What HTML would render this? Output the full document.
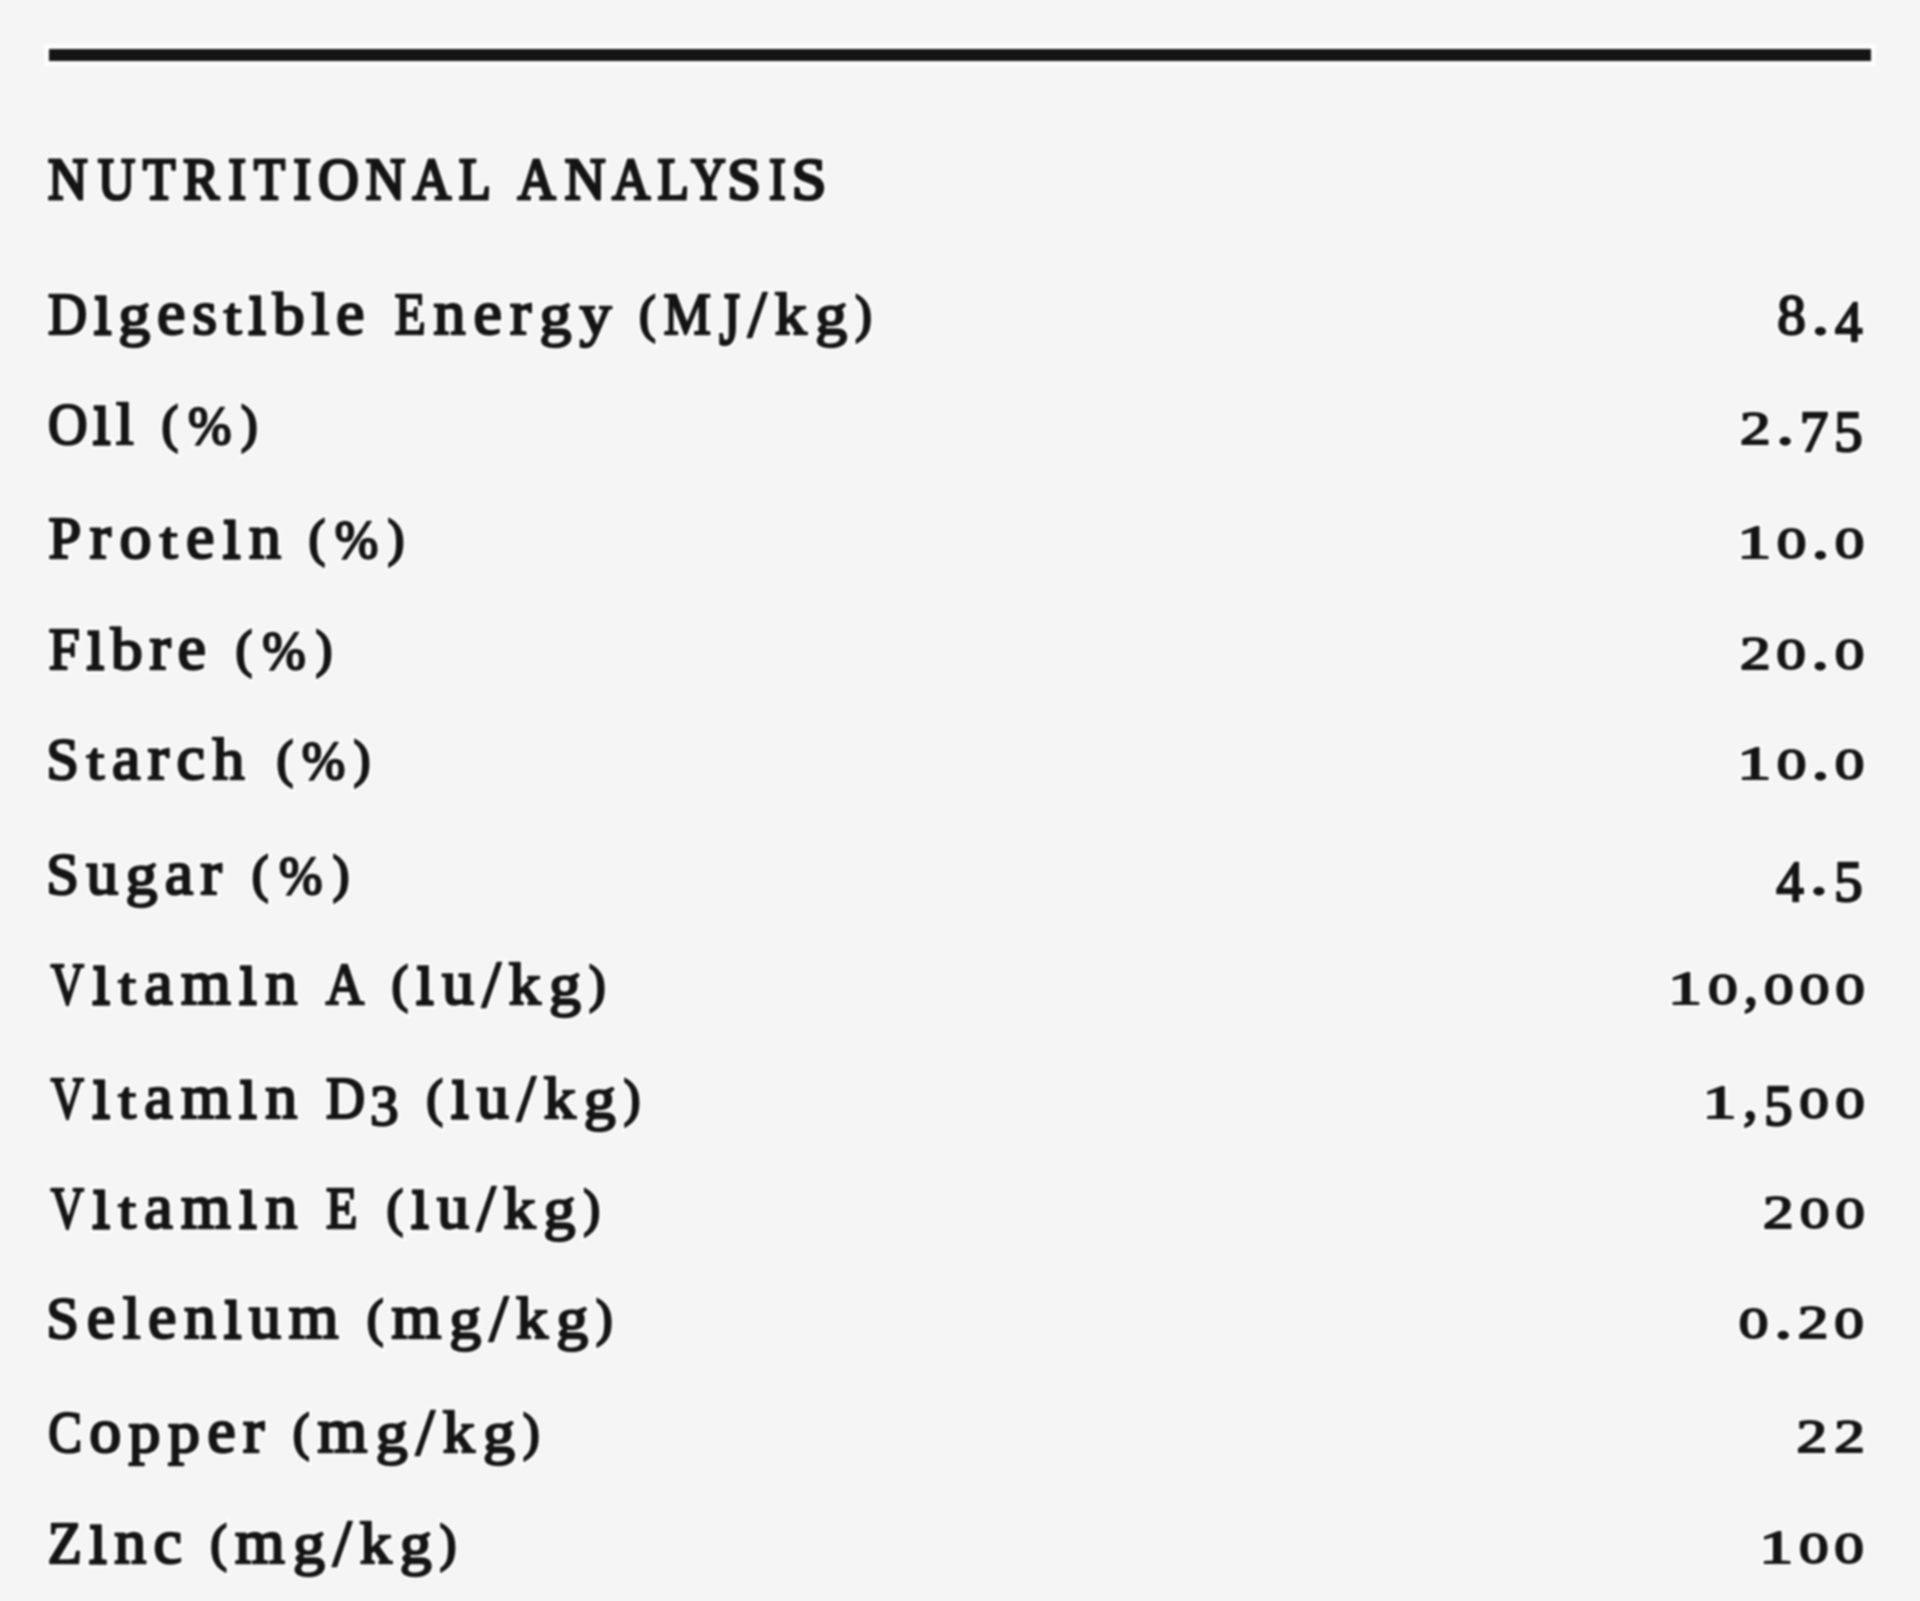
<!DOCTYPE html>
<html><head><meta charset="utf-8"><title>Nutritional Analysis</title>
<style>
html,body{margin:0;padding:0;}
body{width:1920px;height:1601px;background:#f5f5f5;overflow:hidden;position:relative;font-family:"Liberation Serif",serif;}
.halo{position:absolute;left:44px;top:44px;width:1832px;height:22px;background:#fff;opacity:.85;filter:blur(1.2px);}
.rule{position:absolute;left:49px;top:49px;width:1822px;height:12px;background:#141414;filter:blur(1.2px);}
svg{position:absolute;left:0;top:0;}
svg text{font-family:"Liberation Serif",serif;font-weight:normal;}
.tm{fill:#141414;stroke:#141414;--sw:2.6px;stroke-width:var(--sw);filter:blur(0.9px);}
.th{fill:#fff;stroke:#fff;--sw:7px;stroke-width:var(--sw);filter:blur(1.2px);}
</style></head>
<body>
<div class="halo"></div>
<div class="rule"></div>
<svg width="1920" height="1601" viewBox="0 0 1920 1601">
<defs><g id="tx">
<text transform="translate(48.12 199.00) scale(0.932 1.000)" font-size="58.8" style="stroke-width:calc(var(--sw) + 0.6px)">N</text>
<text transform="translate(97.97 199.00) scale(0.873 1.000)" font-size="58.8" style="stroke-width:calc(var(--sw) + 0.6px)">U</text>
<text transform="translate(143.09 199.00) scale(0.902 1.000)" font-size="58.8" style="stroke-width:calc(var(--sw) + 0.6px)">T</text>
<text transform="translate(183.15 199.00) scale(0.915 1.000)" font-size="58.8" style="stroke-width:calc(var(--sw) + 0.6px)">R</text>
<text transform="translate(228.42 199.00) scale(0.887 1.000)" font-size="58.8" style="stroke-width:calc(var(--sw) + 0.6px)">I</text>
<text transform="translate(253.88 199.00) scale(0.862 1.000)" font-size="58.8" style="stroke-width:calc(var(--sw) + 0.6px)">T</text>
<text transform="translate(293.51 199.00) scale(0.890 1.000)" font-size="58.8" style="stroke-width:calc(var(--sw) + 0.6px)">I</text>
<text transform="translate(318.20 199.00) scale(0.954 1.000)" font-size="58.8" style="stroke-width:calc(var(--sw) + 0.6px)">O</text>
<text transform="translate(365.63 199.00) scale(0.928 1.000)" font-size="58.8" style="stroke-width:calc(var(--sw) + 0.6px)">N</text>
<text transform="translate(412.68 199.00) scale(0.902 1.000)" font-size="58.8" style="stroke-width:calc(var(--sw) + 0.6px)">A</text>
<text transform="translate(459.10 199.00) scale(0.886 1.000)" font-size="58.8" style="stroke-width:calc(var(--sw) + 0.6px)">L</text>
<text transform="translate(517.69 199.00) scale(0.890 1.000)" font-size="58.8" style="stroke-width:calc(var(--sw) + 0.6px)">A</text>
<text transform="translate(564.68 199.00) scale(0.959 1.000)" font-size="58.8" style="stroke-width:calc(var(--sw) + 0.6px)">N</text>
<text transform="translate(612.19 199.00) scale(0.892 1.000)" font-size="58.8" style="stroke-width:calc(var(--sw) + 0.6px)">A</text>
<text transform="translate(657.63 199.00) scale(0.867 1.000)" font-size="58.8" style="stroke-width:calc(var(--sw) + 0.6px)">L</text>
<text transform="translate(691.27 199.00) scale(0.809 1.000)" font-size="58.8" style="stroke-width:calc(var(--sw) + 0.6px)">Y</text>
<text transform="translate(727.26 199.00) scale(1.027 1.000)" font-size="58.8" style="stroke-width:calc(var(--sw) + 0.6px)">S</text>
<text transform="translate(769.13 199.00) scale(0.832 1.000)" font-size="58.8" style="stroke-width:calc(var(--sw) + 0.6px)">I</text>
<text transform="translate(791.64 199.00) scale(1.059 1.000)" font-size="58.8" style="stroke-width:calc(var(--sw) + 0.6px)">S</text>
<text transform="translate(48.04 334.00) scale(0.920 1.000)" font-size="58.8">D</text>
<text transform="translate(93.83 334.00) scale(1.000 1.264)" font-size="64">ı</text>
<text transform="translate(118.33 334.00) scale(1.000 0.940)" font-size="64">g</text>
<text x="157.04" y="334.00" font-size="64">e</text>
<text x="192.17" y="334.00" font-size="64">s</text>
<text transform="translate(223.79 334.00) scale(1.000 0.815)" font-size="64">t</text>
<text transform="translate(248.29 334.00) scale(1.000 1.264)" font-size="64">ı</text>
<text transform="translate(272.79 334.00) scale(1.000 0.920)" font-size="64">b</text>
<text transform="translate(311.51 334.00) scale(1.000 0.920)" font-size="64">l</text>
<text x="336.01" y="334.00" font-size="64">e</text>
<text transform="translate(394.64 334.00) scale(0.860 1.000)" font-size="58.8">E</text>
<text x="433.57" y="334.00" font-size="64">n</text>
<text x="473.61" y="334.00" font-size="64">e</text>
<text x="510.06" y="334.00" font-size="64">r</text>
<text transform="translate(539.41 334.00) scale(1.000 0.940)" font-size="64">g</text>
<text transform="translate(579.45 334.00) scale(1.000 0.940)" font-size="64">y</text>
<text transform="translate(639.37 331.00) scale(0.950 1.000)" font-size="51.1" style="stroke-width:calc(var(--sw) + 0.4px)">(</text>
<text transform="translate(663.84 334.00) scale(0.900 1.000)" font-size="58.8">M</text>
<text transform="translate(719.20 343.50) scale(0.900 1.250)" font-size="58.8">J</text>
<text x="748.10" y="336.05" font-size="66.4">/</text>
<text transform="translate(774.85 334.00) scale(1.000 0.920)" font-size="64">k</text>
<text transform="translate(815.16 334.00) scale(1.000 0.940)" font-size="64">g</text>
<text transform="translate(855.47 331.00) scale(0.950 1.000)" font-size="51.1" style="stroke-width:calc(var(--sw) + 0.4px)">)</text>
<text x="1777.32" y="334.00" font-size="57.2" style="stroke-width:calc(var(--sw) - 0.2px)">8</text>
<text transform="translate(1811.47 334.00) scale(1.250 0.950)" font-size="57.2" style="stroke-width:calc(var(--sw) - 0.2px)">.</text>
<text transform="translate(1834.90 340.50) scale(0.960 1.000)" font-size="57.2" style="stroke-width:calc(var(--sw) - 0.2px)">4</text>
<text transform="translate(48.06 444.00) scale(0.930 1.000)" font-size="58.8">O</text>
<text transform="translate(92.86 444.00) scale(1.000 1.264)" font-size="64">ı</text>
<text transform="translate(115.95 444.00) scale(1.000 0.920)" font-size="64">l</text>
<text transform="translate(161.87 441.00) scale(0.950 1.000)" font-size="51.1" style="stroke-width:calc(var(--sw) + 0.4px)">(</text>
<text transform="translate(187.96 444.00) scale(0.870 0.910)" font-size="60">%</text>
<text transform="translate(241.37 441.00) scale(0.950 1.000)" font-size="51.1" style="stroke-width:calc(var(--sw) + 0.4px)">)</text>
<text transform="translate(1740.01 444.00) scale(1.070 0.795)" font-size="57.2" style="stroke-width:calc(var(--sw) - 0.2px)">2</text>
<text transform="translate(1776.23 444.00) scale(1.250 0.950)" font-size="57.2" style="stroke-width:calc(var(--sw) - 0.2px)">.</text>
<text x="1799.72" y="450.50" font-size="57.2" style="stroke-width:calc(var(--sw) - 0.2px)">7</text>
<text x="1833.93" y="450.50" font-size="57.2" style="stroke-width:calc(var(--sw) - 0.2px)">5</text>
<text x="48.61" y="558.00" font-size="58.8">P</text>
<text x="89.70" y="558.00" font-size="64">r</text>
<text x="119.40" y="558.00" font-size="64">o</text>
<text transform="translate(159.79 558.00) scale(1.000 0.815)" font-size="64">t</text>
<text x="185.95" y="558.00" font-size="64">e</text>
<text transform="translate(222.75 558.00) scale(1.000 1.264)" font-size="64">ı</text>
<text x="248.92" y="558.00" font-size="64">n</text>
<text transform="translate(308.87 555.00) scale(0.950 1.000)" font-size="51.1" style="stroke-width:calc(var(--sw) + 0.4px)">(</text>
<text transform="translate(334.76 558.00) scale(0.870 0.910)" font-size="60">%</text>
<text transform="translate(387.97 555.00) scale(0.950 1.000)" font-size="51.1" style="stroke-width:calc(var(--sw) + 0.4px)">)</text>
<text transform="translate(1737.32 558.00) scale(1.190 0.797)" font-size="57.2" style="stroke-width:calc(var(--sw) - 0.2px)">1</text>
<text transform="translate(1776.66 558.00) scale(1.035 0.780)" font-size="57.2" style="stroke-width:calc(var(--sw) - 0.2px)">0</text>
<text transform="translate(1811.57 558.00) scale(1.250 0.950)" font-size="57.2" style="stroke-width:calc(var(--sw) - 0.2px)">.</text>
<text transform="translate(1834.75 558.00) scale(1.035 0.780)" font-size="57.2" style="stroke-width:calc(var(--sw) - 0.2px)">0</text>
<text transform="translate(48.69 669.00) scale(0.950 1.000)" font-size="58.8">F</text>
<text transform="translate(86.42 669.00) scale(1.000 1.264)" font-size="64">ı</text>
<text transform="translate(110.87 669.00) scale(1.000 0.920)" font-size="64">b</text>
<text x="149.53" y="669.00" font-size="64">r</text>
<text x="177.51" y="669.00" font-size="64">e</text>
<text transform="translate(235.87 666.00) scale(0.950 1.000)" font-size="51.1" style="stroke-width:calc(var(--sw) + 0.4px)">(</text>
<text transform="translate(262.26 669.00) scale(0.870 0.910)" font-size="60">%</text>
<text transform="translate(315.97 666.00) scale(0.950 1.000)" font-size="51.1" style="stroke-width:calc(var(--sw) + 0.4px)">)</text>
<text transform="translate(1740.01 669.00) scale(1.070 0.795)" font-size="57.2" style="stroke-width:calc(var(--sw) - 0.2px)">2</text>
<text transform="translate(1776.17 669.00) scale(1.035 0.780)" font-size="57.2" style="stroke-width:calc(var(--sw) - 0.2px)">0</text>
<text transform="translate(1811.32 669.00) scale(1.250 0.950)" font-size="57.2" style="stroke-width:calc(var(--sw) - 0.2px)">.</text>
<text transform="translate(1834.75 669.00) scale(1.035 0.780)" font-size="57.2" style="stroke-width:calc(var(--sw) - 0.2px)">0</text>
<text x="46.37" y="779.00" font-size="58.8">S</text>
<text transform="translate(86.58 779.00) scale(1.000 0.815)" font-size="64">t</text>
<text x="111.88" y="779.00" font-size="64">a</text>
<text x="147.80" y="779.00" font-size="64">r</text>
<text x="176.62" y="779.00" font-size="64">c</text>
<text transform="translate(212.54 779.00) scale(1.000 0.920)" font-size="64">h</text>
<text transform="translate(276.87 776.00) scale(0.950 1.000)" font-size="51.1" style="stroke-width:calc(var(--sw) + 0.4px)">(</text>
<text transform="translate(301.76 779.00) scale(0.870 0.910)" font-size="60">%</text>
<text transform="translate(353.97 776.00) scale(0.950 1.000)" font-size="51.1" style="stroke-width:calc(var(--sw) + 0.4px)">)</text>
<text transform="translate(1737.32 779.00) scale(1.190 0.797)" font-size="57.2" style="stroke-width:calc(var(--sw) - 0.2px)">1</text>
<text transform="translate(1776.66 779.00) scale(1.035 0.780)" font-size="57.2" style="stroke-width:calc(var(--sw) - 0.2px)">0</text>
<text transform="translate(1811.57 779.00) scale(1.250 0.950)" font-size="57.2" style="stroke-width:calc(var(--sw) - 0.2px)">.</text>
<text transform="translate(1834.75 779.00) scale(1.035 0.780)" font-size="57.2" style="stroke-width:calc(var(--sw) - 0.2px)">0</text>
<text x="46.37" y="894.00" font-size="58.8">S</text>
<text x="86.31" y="894.00" font-size="64">u</text>
<text transform="translate(125.56 894.00) scale(1.000 0.940)" font-size="64">g</text>
<text x="164.80" y="894.00" font-size="64">a</text>
<text x="200.45" y="894.00" font-size="64">r</text>
<text transform="translate(252.12 891.00) scale(0.950 1.000)" font-size="51.1" style="stroke-width:calc(var(--sw) + 0.4px)">(</text>
<text transform="translate(278.88 894.00) scale(0.870 0.910)" font-size="60">%</text>
<text transform="translate(332.97 891.00) scale(0.950 1.000)" font-size="51.1" style="stroke-width:calc(var(--sw) + 0.4px)">)</text>
<text transform="translate(1776.33 900.50) scale(0.960 1.000)" font-size="57.2" style="stroke-width:calc(var(--sw) - 0.2px)">4</text>
<text transform="translate(1809.92 894.00) scale(1.250 0.950)" font-size="57.2" style="stroke-width:calc(var(--sw) - 0.2px)">.</text>
<text x="1833.93" y="900.50" font-size="57.2" style="stroke-width:calc(var(--sw) - 0.2px)">5</text>
<text transform="translate(50.78 1004.00) scale(0.780 1.000)" font-size="58.8">V</text>
<text transform="translate(92.19 1004.00) scale(1.000 1.264)" font-size="64">ı</text>
<text transform="translate(118.26 1004.00) scale(1.000 0.815)" font-size="64">t</text>
<text x="144.33" y="1004.00" font-size="64">a</text>
<text x="181.03" y="1004.00" font-size="64">m</text>
<text transform="translate(239.10 1004.00) scale(1.000 1.264)" font-size="64">ı</text>
<text x="265.17" y="1004.00" font-size="64">n</text>
<text transform="translate(325.78 1004.00) scale(0.902 1.000)" font-size="58.8">A</text>
<text transform="translate(391.67 1001.00) scale(0.950 1.000)" font-size="51.1" style="stroke-width:calc(var(--sw) + 0.4px)">(</text>
<text transform="translate(416.03 1004.00) scale(1.000 1.264)" font-size="64">ı</text>
<text x="442.02" y="1004.00" font-size="64">u</text>
<text x="482.22" y="1006.05" font-size="66.4">/</text>
<text transform="translate(508.87 1004.00) scale(1.000 0.920)" font-size="64">k</text>
<text transform="translate(549.07 1004.00) scale(1.000 0.940)" font-size="64">g</text>
<text transform="translate(589.27 1001.00) scale(0.950 1.000)" font-size="51.1" style="stroke-width:calc(var(--sw) + 0.4px)">)</text>
<text transform="translate(1668.02 1004.00) scale(1.190 0.797)" font-size="57.2" style="stroke-width:calc(var(--sw) - 0.2px)">1</text>
<text transform="translate(1708.09 1004.00) scale(1.035 0.780)" font-size="57.2" style="stroke-width:calc(var(--sw) - 0.2px)">0</text>
<text x="1743.73" y="1004.00" font-size="57.2" style="stroke-width:calc(var(--sw) - 0.2px)">,</text>
<text transform="translate(1764.07 1004.00) scale(1.035 0.780)" font-size="57.2" style="stroke-width:calc(var(--sw) - 0.2px)">0</text>
<text transform="translate(1799.71 1004.00) scale(1.035 0.780)" font-size="57.2" style="stroke-width:calc(var(--sw) - 0.2px)">0</text>
<text transform="translate(1835.35 1004.00) scale(1.035 0.780)" font-size="57.2" style="stroke-width:calc(var(--sw) - 0.2px)">0</text>
<text transform="translate(50.78 1118.00) scale(0.780 1.000)" font-size="58.8">V</text>
<text transform="translate(92.19 1118.00) scale(1.000 1.264)" font-size="64">ı</text>
<text transform="translate(118.26 1118.00) scale(1.000 0.815)" font-size="64">t</text>
<text x="144.33" y="1118.00" font-size="64">a</text>
<text x="181.03" y="1118.00" font-size="64">m</text>
<text transform="translate(239.10 1118.00) scale(1.000 1.264)" font-size="64">ı</text>
<text x="265.17" y="1118.00" font-size="64">n</text>
<text transform="translate(325.99 1118.00) scale(0.920 1.000)" font-size="58.8">D</text>
<text x="369.93" y="1124.50" font-size="57.2" style="stroke-width:calc(var(--sw) - 0.2px)">3</text>
<text transform="translate(426.57 1115.00) scale(0.950 1.000)" font-size="51.1" style="stroke-width:calc(var(--sw) + 0.4px)">(</text>
<text transform="translate(450.90 1118.00) scale(1.000 1.264)" font-size="64">ı</text>
<text x="476.85" y="1118.00" font-size="64">u</text>
<text x="517.02" y="1120.05" font-size="66.4">/</text>
<text transform="translate(543.63 1118.00) scale(1.000 0.920)" font-size="64">k</text>
<text transform="translate(583.80 1118.00) scale(1.000 0.940)" font-size="64">g</text>
<text transform="translate(623.97 1115.00) scale(0.950 1.000)" font-size="51.1" style="stroke-width:calc(var(--sw) + 0.4px)">)</text>
<text transform="translate(1702.62 1118.00) scale(1.190 0.797)" font-size="57.2" style="stroke-width:calc(var(--sw) - 0.2px)">1</text>
<text x="1743.20" y="1118.00" font-size="57.2" style="stroke-width:calc(var(--sw) - 0.2px)">,</text>
<text x="1764.05" y="1124.50" font-size="57.2" style="stroke-width:calc(var(--sw) - 0.2px)">5</text>
<text transform="translate(1799.20 1118.00) scale(1.035 0.780)" font-size="57.2" style="stroke-width:calc(var(--sw) - 0.2px)">0</text>
<text transform="translate(1835.35 1118.00) scale(1.035 0.780)" font-size="57.2" style="stroke-width:calc(var(--sw) - 0.2px)">0</text>
<text transform="translate(50.78 1228.00) scale(0.780 1.000)" font-size="58.8">V</text>
<text transform="translate(92.19 1228.00) scale(1.000 1.264)" font-size="64">ı</text>
<text transform="translate(118.26 1228.00) scale(1.000 0.815)" font-size="64">t</text>
<text x="144.33" y="1228.00" font-size="64">a</text>
<text x="181.03" y="1228.00" font-size="64">m</text>
<text transform="translate(239.10 1228.00) scale(1.000 1.264)" font-size="64">ı</text>
<text x="265.17" y="1228.00" font-size="64">n</text>
<text transform="translate(326.07 1228.00) scale(0.876 1.000)" font-size="58.8">E</text>
<text transform="translate(386.87 1225.00) scale(0.950 1.000)" font-size="51.1" style="stroke-width:calc(var(--sw) + 0.4px)">(</text>
<text transform="translate(411.10 1228.00) scale(1.000 1.264)" font-size="64">ı</text>
<text x="436.95" y="1228.00" font-size="64">u</text>
<text x="477.02" y="1230.05" font-size="66.4">/</text>
<text transform="translate(503.53 1228.00) scale(1.000 0.920)" font-size="64">k</text>
<text transform="translate(543.60 1228.00) scale(1.000 0.940)" font-size="64">g</text>
<text transform="translate(583.67 1225.00) scale(0.950 1.000)" font-size="51.1" style="stroke-width:calc(var(--sw) + 0.4px)">)</text>
<text transform="translate(1763.11 1228.00) scale(1.070 0.795)" font-size="57.2" style="stroke-width:calc(var(--sw) - 0.2px)">2</text>
<text transform="translate(1799.73 1228.00) scale(1.035 0.780)" font-size="57.2" style="stroke-width:calc(var(--sw) - 0.2px)">0</text>
<text transform="translate(1835.35 1228.00) scale(1.035 0.780)" font-size="57.2" style="stroke-width:calc(var(--sw) - 0.2px)">0</text>
<text x="46.37" y="1338.00" font-size="58.8">S</text>
<text x="86.67" y="1338.00" font-size="64">e</text>
<text transform="translate(122.68 1338.00) scale(1.000 0.920)" font-size="64">l</text>
<text x="148.07" y="1338.00" font-size="64">e</text>
<text x="184.08" y="1338.00" font-size="64">n</text>
<text transform="translate(223.68 1338.00) scale(1.000 1.264)" font-size="64">ı</text>
<text x="249.07" y="1338.00" font-size="64">u</text>
<text x="288.67" y="1338.00" font-size="64">m</text>
<text transform="translate(367.12 1335.00) scale(0.950 1.000)" font-size="51.1" style="stroke-width:calc(var(--sw) + 0.4px)">(</text>
<text x="391.41" y="1338.00" font-size="64">m</text>
<text transform="translate(449.32 1338.00) scale(1.000 0.940)" font-size="64">g</text>
<text x="489.44" y="1340.05" font-size="66.4">/</text>
<text transform="translate(516.02 1338.00) scale(1.000 0.920)" font-size="64">k</text>
<text transform="translate(556.14 1338.00) scale(1.000 0.940)" font-size="64">g</text>
<text transform="translate(596.27 1335.00) scale(0.950 1.000)" font-size="51.1" style="stroke-width:calc(var(--sw) + 0.4px)">)</text>
<text transform="translate(1738.75 1338.00) scale(1.035 0.780)" font-size="57.2" style="stroke-width:calc(var(--sw) - 0.2px)">0</text>
<text transform="translate(1774.16 1338.00) scale(1.250 0.950)" font-size="57.2" style="stroke-width:calc(var(--sw) - 0.2px)">.</text>
<text transform="translate(1797.84 1338.00) scale(1.070 0.795)" font-size="57.2" style="stroke-width:calc(var(--sw) - 0.2px)">2</text>
<text transform="translate(1834.25 1338.00) scale(1.035 0.780)" font-size="57.2" style="stroke-width:calc(var(--sw) - 0.2px)">0</text>
<text transform="translate(48.23 1452.00) scale(0.860 1.000)" font-size="58.8">C</text>
<text x="89.27" y="1452.00" font-size="64">o</text>
<text transform="translate(128.59 1452.00) scale(1.000 0.940)" font-size="64">p</text>
<text transform="translate(167.91 1452.00) scale(1.000 0.940)" font-size="64">p</text>
<text x="207.23" y="1452.00" font-size="64">e</text>
<text x="242.95" y="1452.00" font-size="64">r</text>
<text transform="translate(293.12 1449.00) scale(0.950 1.000)" font-size="51.1" style="stroke-width:calc(var(--sw) + 0.4px)">(</text>
<text x="317.59" y="1452.00" font-size="64">m</text>
<text transform="translate(375.68 1452.00) scale(1.000 0.940)" font-size="64">g</text>
<text x="415.99" y="1454.05" font-size="66.4">/</text>
<text transform="translate(442.75 1452.00) scale(1.000 0.920)" font-size="64">k</text>
<text transform="translate(483.06 1452.00) scale(1.000 0.940)" font-size="64">g</text>
<text transform="translate(523.37 1449.00) scale(0.950 1.000)" font-size="51.1" style="stroke-width:calc(var(--sw) + 0.4px)">)</text>
<text transform="translate(1796.41 1452.00) scale(1.070 0.795)" font-size="57.2" style="stroke-width:calc(var(--sw) - 0.2px)">2</text>
<text transform="translate(1834.37 1452.00) scale(1.070 0.795)" font-size="57.2" style="stroke-width:calc(var(--sw) - 0.2px)">2</text>
<text transform="translate(47.63 1563.00) scale(0.950 1.000)" font-size="58.8">Z</text>
<text transform="translate(89.08 1563.00) scale(1.000 1.264)" font-size="64">ı</text>
<text x="114.18" y="1563.00" font-size="64">n</text>
<text x="153.51" y="1563.00" font-size="64">c</text>
<text transform="translate(210.62 1560.00) scale(0.950 1.000)" font-size="51.1" style="stroke-width:calc(var(--sw) + 0.4px)">(</text>
<text x="234.94" y="1563.00" font-size="64">m</text>
<text transform="translate(292.88 1563.00) scale(1.000 0.940)" font-size="64">g</text>
<text x="333.04" y="1565.05" font-size="66.4">/</text>
<text transform="translate(359.65 1563.00) scale(1.000 0.920)" font-size="64">k</text>
<text transform="translate(399.81 1563.00) scale(1.000 0.940)" font-size="64">g</text>
<text transform="translate(439.97 1560.00) scale(0.950 1.000)" font-size="51.1" style="stroke-width:calc(var(--sw) + 0.4px)">)</text>
<text transform="translate(1759.22 1563.00) scale(1.190 0.797)" font-size="57.2" style="stroke-width:calc(var(--sw) - 0.2px)">1</text>
<text transform="translate(1798.95 1563.00) scale(1.035 0.780)" font-size="57.2" style="stroke-width:calc(var(--sw) - 0.2px)">0</text>
<text transform="translate(1834.25 1563.00) scale(1.035 0.780)" font-size="57.2" style="stroke-width:calc(var(--sw) - 0.2px)">0</text>
</g></defs>
<use class="th" href="#tx"/>
<use class="tm" href="#tx"/>
</svg>
</body></html>
